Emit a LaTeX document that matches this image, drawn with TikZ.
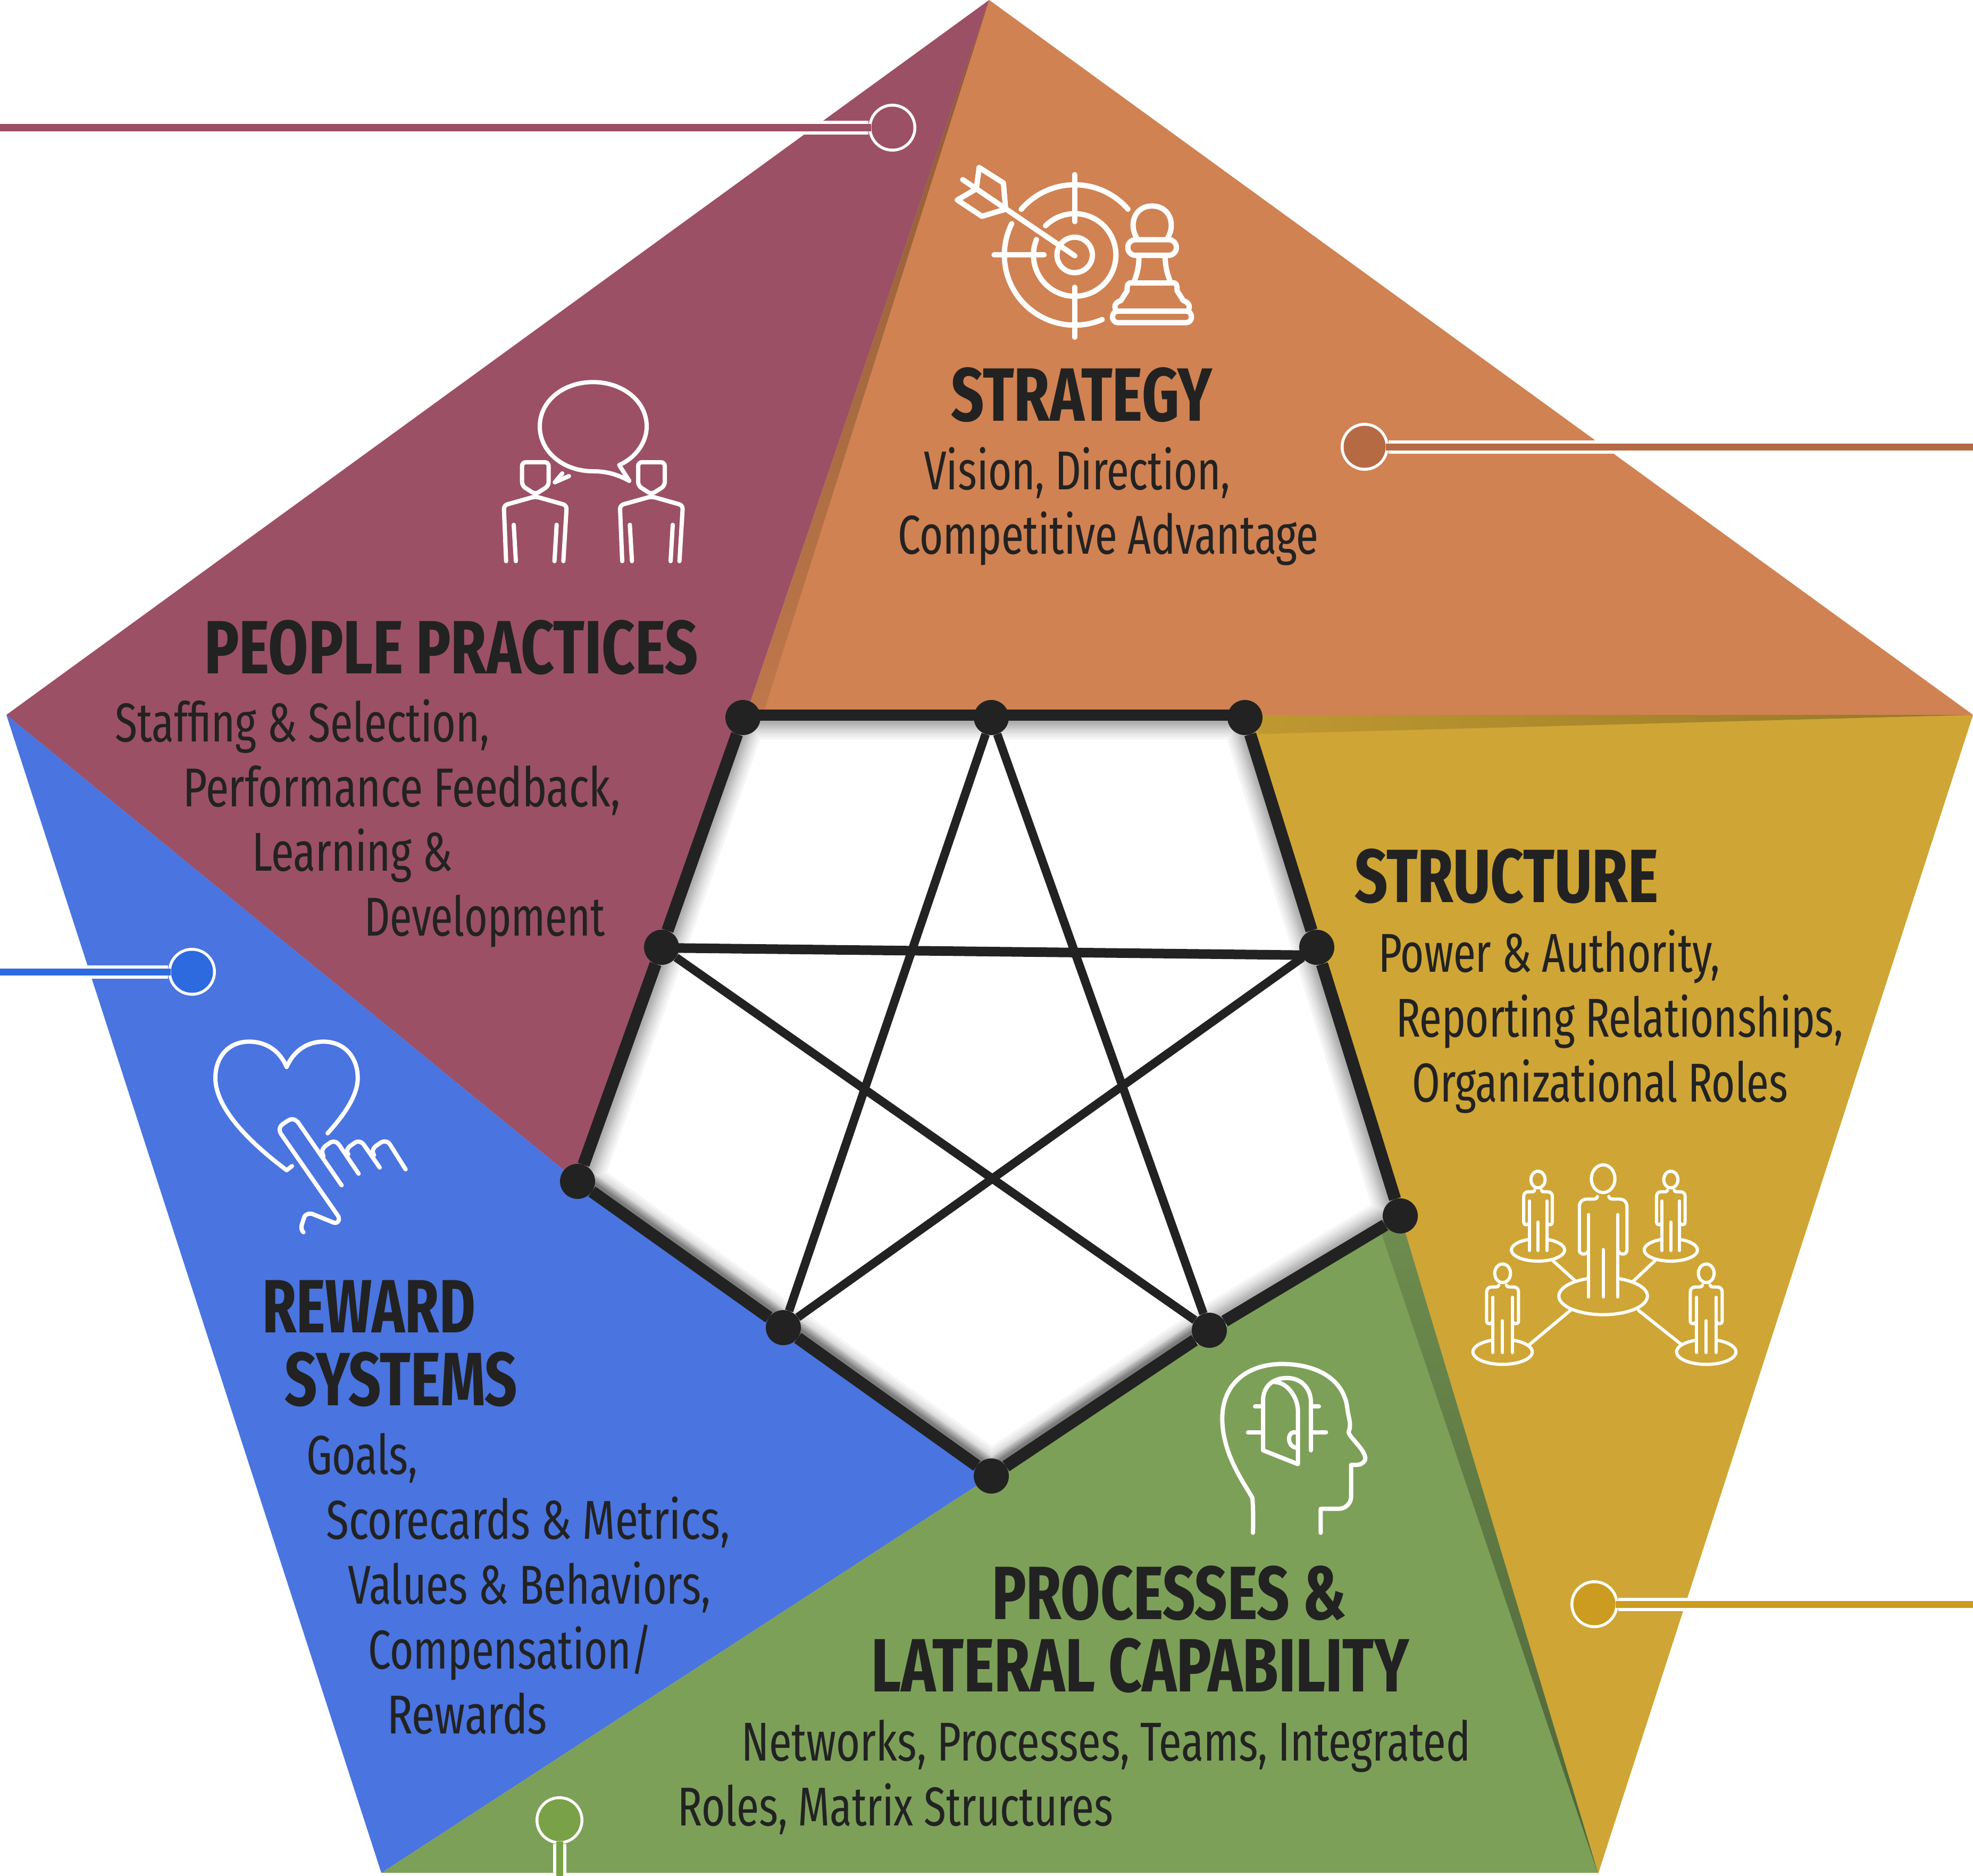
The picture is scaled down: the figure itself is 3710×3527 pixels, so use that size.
\documentclass[tikz,border=0pt]{standalone}
\usepackage{graphicx}
\usepackage{fontspec}
\setmainfont{Fira Sans Condensed}
\usetikzlibrary{shapes.geometric}
\definecolor{corange}{HTML}{D08252}
\definecolor{cmaroon}{HTML}{9B5066}
\definecolor{cgold}{HTML}{CFA535}
\definecolor{cgreen}{HTML}{7DA059}
\definecolor{cblue}{HTML}{4A74DF}
\definecolor{dorange}{HTML}{B56A44}
\definecolor{dgold}{HTML}{CC9C20}
\definecolor{dgreen}{HTML}{78A148}
\definecolor{dblue}{HTML}{2D69DF}
\definecolor{sbrown}{HTML}{8B5A33}
\definecolor{ink}{HTML}{222222}
\newsavebox\fitbox
\newcommand\fitw[2]{\sbox\fitbox{#2}\pgfmathsetmacro\fitr{#1/\wd\fitbox}\scalebox{\fitr}[1]{\usebox\fitbox}}
\newcommand\bodyline[5]{\pgfmathsetmacro\fitW{#4-#3+8}\pgfmathsetmacro\fitX{#3-4}\node[bodyt] (#1) at (\fitX,#5) {\fitw{\fitW}{#2}};}
\newcommand\headline[5]{\pgfmathsetmacro\fitW{#4-#3+8}\pgfmathsetmacro\fitX{#3-4}\node[headt] (#1) at (\fitX,#5) {\fitw{\fitW}{#2}};}
\newcommand\stickman[3]{%
  \pgfmathsetmacro\sxx{0.37*#3}\pgfmathsetmacro\syy{0.3333*#3}%
  \begin{scope}[shift={(#1,#2)},x=\sxx pt,y=-\syy pt]
    \draw[ic6] (0,-662) ellipse[x radius=60*\sxx pt,y radius=78*\syy pt];
    \draw[ic6] (-29,-562) .. controls (-31,-548) and (-41,-547) .. (-56,-547) -- (-81,-547) .. controls (-106,-547) and (-121,-530) .. (-121,-505) -- (-121,-260) .. controls (-121,-230) and (-84,-230) .. (-76,-255);
    \draw[ic6] (29,-562) .. controls (31,-548) and (41,-547) .. (56,-547) -- (81,-547) .. controls (106,-547) and (121,-530) .. (121,-505) -- (121,-260) .. controls (121,-230) and (84,-230) .. (76,-255);
    \draw[ic6] (-74,-460) -- (-74,5);
    \draw[ic6] (74,-460) -- (74,5);
    \draw[ic6] (0,-262) -- (0,5);
    \draw[ic6] plot[domain=-70:250,samples=70,variable=\t] ({225*cos(\t)},{105*sin(\t)});
  \end{scope}}
\tikzset{
  holedot/.style={circle,fill=ink,draw=none,minimum size=66pt,inner sep=0pt},
  edgeline/.style={draw=ink,line width=23pt},
  topline/.style={draw=ink,line width=21pt},
  starline/.style={draw=ink,line width=16pt},
  ring/.style={circle,fill=white,draw=none,minimum size=90pt,inner sep=0pt},
  disc/.style={circle,draw=none,minimum size=79pt,inner sep=0pt},
  bandline/.style={draw=white,line width=25pt},
  barline/.style={line width=13pt},
  bodyt/.style={anchor=base west,inner sep=0pt,text=ink,font=\fontsize{103}{121}\selectfont},
  headt/.style={anchor=base west,inner sep=0pt,text=ink,font=\fontsize{142}{150}\selectfont\bfseries},
  ic/.style={draw=white,line width=10pt,line cap=round,line join=round},
  ic8/.style={draw=white,line width=8pt,line cap=round,line join=round},
  ic6/.style={draw=white,line width=6pt,line cap=round,line join=round},
}
\begin{document}
\begin{tikzpicture}[x=1pt,y=-1pt]
\useasboundingbox (0,0) rectangle (3710,3527);
\fill[white] (0,0) rectangle (3710,3527);
% panels
\fill[cmaroon] (1860,0) -- (1401,1349) -- (1086,2221) -- (12,1344) -- cycle;
\fill[corange] (1860,0) -- (3710,1344) -- (1401,1349) -- cycle;
\fill[cgold] (3710,1344) -- (3005,3523) -- (2633,2286) -- (2341,1344) -- cycle;
\fill[cgreen] (717,3521) -- (3005,3521) -- (2633,2286) -- (1864,2775) -- cycle;
\fill[cblue] (12,1344) -- (1086,2221) -- (1864,2775) -- (717,3521) -- cycle;
% slivers
\shade[top color=sbrown,bottom color=corange!92!black] (1860,0) -- (1434,1345) -- (1401,1349) -- cycle;
\shade[left color=cgold!92!black,right color=cgold!72!black] (3710,1344) -- (2366,1344) -- (2366,1380) -- cycle;
\shade[top color=cgreen!88!black,bottom color=cgreen!62!black] (3005,3523) -- (2633,2286) -- (2598,2320) -- cycle;
% white centre with inner shadow
\fill[white] (1397,1344) -- (2341,1344) -- (2476,1781) -- (2633,2286) -- (2274,2501) -- (1864,2775) -- (1473,2496) -- (1086,2221) -- (1244,1781) -- cycle;
\begin{scope}
  \clip (1397,1344) -- (2341,1344) -- (2476,1781) -- (2633,2286) -- (2274,2501) -- (1864,2775) -- (1473,2496) -- (1086,2221) -- (1244,1781) -- cycle;
  \foreach \w in {92,82,72,64,56,50,44,38,32} {
    \draw[black,opacity=0.04,line width=\w pt] (1397,1344) -- (2341,1344) -- (2476,1781) -- (2633,2286) -- (2274,2501) -- (1864,2775) -- (1473,2496) -- (1086,2221) -- (1244,1781) -- cycle;
  }
  \foreach \w in {58,50,42,36} {
    \draw[black,opacity=0.08,line width=\w pt] (1086,2221) -- (1473,2496) -- (1864,2775) -- (2274,2501);
  }
\end{scope}
% nodes
\node[holedot] (n1) at (1397,1349) {};
\node[holedot] (n2) at (1864,1349) {};
\node[holedot] (n3) at (2341,1349) {};
\node[holedot] (n4) at (2476,1781) {};
\node[holedot] (n5) at (2633,2286) {};
\node[holedot] (n6) at (2274,2501) {};
\node[holedot] (n7) at (1864,2775) {};
\node[holedot] (n8) at (1473,2496) {};
\node[holedot] (n9) at (1086,2221) {};
\node[holedot] (n10) at (1244,1781) {};
\draw[topline] ([yshift=5pt]n1.center)--([yshift=5pt]n2.center); \draw[topline] ([yshift=5pt]n2.center)--([yshift=5pt]n3.center);
\draw[edgeline] (n3)--(n4); \draw[edgeline] (n4)--(n5);
\draw[edgeline] (n5)--(n6); \draw[edgeline] (n6)--(n7); \draw[edgeline] (n7)--(n8); \draw[edgeline] (n8)--(n9);
\draw[edgeline] (n9)--(n10); \draw[edgeline] (n10)--(n1);
\draw[starline] (n2)--(n8); \draw[starline] (n8)--(n4);
\draw[starline,line width=18pt] ([yshift=-1pt]n10.center)--([yshift=-15pt]n4.center);
\draw[starline] (n10)--(n6); \draw[starline] (n6)--(n2);
% callouts
\coordinate (e1) at (0,240);
\node[ring] (c1) at (1678,240) {};
\draw[bandline] (e1)--(c1);
\node[disc,fill=cmaroon] (d1) at (c1) {};
\draw[barline,draw=cmaroon] (e1)--(d1);
\coordinate (e2) at (3710,840);
\node[ring] (c2) at (2566,840) {};
\draw[bandline] (e2)--(c2);
\node[disc,fill=dorange] (d2) at (c2) {};
\draw[barline,draw=dorange] (e2)--(d2);
\coordinate (e3) at (3710,3016);
\node[ring] (c3) at (2998,3016) {};
\draw[bandline] (e3)--(c3);
\node[disc,fill=dgold] (d3) at (c3) {};
\draw[barline,draw=dgold] (e3)--(d3);
\coordinate (e4) at (0,1827);
\node[ring] (c4) at (361,1827) {};
\draw[bandline] (e4)--(c4);
\node[disc,fill=dblue] (d4) at (c4) {};
\draw[barline,draw=dblue] (e4)--(d4);
\coordinate (e5) at (1052,3527);
\node[ring] (c5) at (1052,3422) {};
\draw[bandline] (e5)--(c5);
\node[disc,fill=dgreen] (d5) at (c5) {};
\draw[barline,draw=dgreen] (e5)--(d5);
% texts
\headline{t1}{STRATEGY}{1792}{2275}{791}
\bodyline{t2}{Vision, Direction,}{1741}{2309}{920}
\bodyline{t3}{Competitive Advantage}{1692}{2475}{1041}
\headline{t4}{PEOPLE PRACTICES}{388}{1308}{1266}
\bodyline{t5}{Staffing \& Selection,}{220}{916}{1394}
\bodyline{t6}{Performance Feedback,}{348}{1162}{1516}
\bodyline{t7}{Learning \&}{478}{847}{1637}
\bodyline{t8}{Development}{689}{1133}{1759}
\headline{t9}{STRUCTURE}{2551}{3114}{1696}
\bodyline{t10}{Power \& Authority,}{2596}{3230}{1827}
\bodyline{t11}{Reporting Relationships,}{2629}{3462}{1949}
\bodyline{t12}{Organizational Roles}{2659}{3358}{2071}
\headline{t13}{REWARD}{497}{890}{2505}
\headline{t14}{SYSTEMS}{539}{968}{2642}
\bodyline{t15}{Goals,}{580}{781}{2771}
\bodyline{t16}{Scorecards \& Metrics,}{617}{1368}{2893}
\bodyline{t17}{Values \& Behaviors,}{658}{1332}{3015}
\bodyline{t18}{Compensation/}{696}{1222}{3137}
\bodyline{t19}{Rewards}{732}{1025}{3259}
\headline{t20}{PROCESSES \&}{1869}{2527}{3044}
\headline{t21}{LATERAL CAPABILITY}{1642}{2645}{3180}
\bodyline{t22}{Networks, Processes, Teams, Integrated}{1398}{2761}{3310}
\bodyline{t23}{Roles, Matrix Structures}{1278}{2089}{3432}
% strategy icon
\begin{scope}[shift={(1750,280)},x=0.35075pt,y=-0.33333pt]
  \draw[ic] (772,598) ellipse[x radius=33.3pt,y radius=33.3pt];
  \draw[ic] plot[domain=225:562,samples=90,variable=\t] ({772+221*cos(\t)},{598+233*sin(\t)});
  \draw[ic] plot[domain=220.5:319.3,samples=40,variable=\t] ({772+377*cos(\t)},{598+396*sin(\t)});
  \draw[ic] plot[domain=67:206.5,samples=50,variable=\t] ({772+377*cos(\t)},{598+396*sin(\t)});
  \draw[ic] (772,145) -- (772,410);
  \draw[ic] (772,780) -- (772,1062);
  \draw[ic] (340,598) -- (608,598);
  \draw[ic] (172,173) -- (773,603);
  \draw[ic] (245,225) -- (260,105) -- (390,192) -- (402,340) -- (275,380) -- (143,288) -- cycle;
  \draw[ic] (1110,510) .. controls (1060,440) and (1085,322) .. (1187,322) .. controls (1290,322) and (1315,440) .. (1265,510);
  \draw[ic,rounded corners=14pt] (1057,512) rectangle (1317,600);
  \draw[ic] (1117,600) .. controls (1117,670) and (1105,710) .. (1088,755);
  \draw[ic] (1257,600) .. controls (1257,670) and (1270,710) .. (1287,755);
  \draw[ic] (1068,755) -- (1306,755);
  \draw[ic] (1068,755) .. controls (1050,760) and (1053,790) .. (1053,800) -- (1020,855) .. controls (1000,862) and (975,880) .. (995,915);
  \draw[ic] (1306,755) .. controls (1324,760) and (1321,790) .. (1321,800) -- (1354,855) .. controls (1374,862) and (1399,880) .. (1379,915);
  \draw[ic] (995,915) -- (1379,915);
  \draw[ic,rounded corners=10pt] (975,915) rectangle (1398,980);
\end{scope}
% people icon
\begin{scope}[shift={(900,680)},x=0.33333pt,y=-0.33333pt]
  \draw[ic8] (850,672) -- (793,583) .. controls (880,545) and (948,460) .. (948,365) .. controls (948,220) and (810,115) .. (645,115) .. controls (480,115) and (345,220) .. (345,365) .. controls (345,510) and (480,618) .. (645,618) .. controls (730,618) and (790,640) .. (850,672);
  \draw[ic8] (430,680) -- (472,630);
  \draw[ic8] (430,680) -- (510,645);
  \foreach \d in {0,655} {
    \draw[ic8,rounded corners=7pt] ({320+\d},748) -- ({245+\d},700) -- ({245+\d},567) -- ({395+\d},567) -- ({395+\d},700) -- cycle;
    \draw[ic8,rounded corners=7pt] ({155+\d},1125) -- ({142+\d},810) -- ({320+\d},760) -- ({497+\d},810) -- ({478+\d},1125);
    \draw[ic8] ({198+\d},920) -- ({210+\d},1125);
    \draw[ic8] ({440+\d},920) -- ({428+\d},1125);
  }
\end{scope}
% reward icon
\begin{scope}[shift={(360,1920)},x=0.33333pt,y=-0.33333pt]
  \draw[ic8] (768,632) .. controls (860,530) and (938,420) .. (938,320) .. controls (938,200) and (860,115) .. (745,115) .. controls (650,115) and (575,170) .. (537,258) .. controls (500,170) and (425,115) .. (325,115) .. controls (210,115) and (135,200) .. (135,320) .. controls (135,500) and (350,700) .. (537,840) -- (567,817);
  \draw[ic8] (632,1190) .. controls (615,1175) and (620,1155) .. (625,1140) -- (638,1100) .. controls (650,1085) and (670,1080) .. (690,1090) -- (800,1135) .. controls (830,1145) and (840,1115) .. (825,1095) -- (505,635) .. controls (490,610) and (500,590) .. (515,580) -- (545,560) .. controls (570,545) and (590,555) .. (605,575) -- (847,925);
  \draw[ic8] (745,760) .. controls (730,735) and (740,715) .. (760,700) -- (785,683) .. controls (810,672) and (825,685) .. (835,700) -- (943,860);
  \draw[ic8] (885,750) .. controls (870,730) and (880,715) .. (900,700) -- (925,683) .. controls (950,672) and (965,685) .. (975,700) -- (1062,825);
  \draw[ic8] (1030,755) .. controls (1015,730) and (1025,715) .. (1045,700) -- (1070,683) .. controls (1095,672) and (1110,680) .. (1120,695) -- (1208,835);
\end{scope}
% structure icon
\begin{scope}[shift={(2720,2150)},x=0.37pt,y=-0.33333pt]
  \stickman{796}{860}{1}
  \stickman{465}{600}{0.6}
  \stickman{1140}{600}{0.6}
  \stickman{285}{1175}{0.67}
  \stickman{1320}{1175}{0.67}
  \draw[ic6] (540,660) -- (650,770);
  \draw[ic6] (1060,660) -- (950,775);
  \draw[ic6] (630,940) -- (420,1135);
  \draw[ic6] (975,940) -- (1190,1130);
\end{scope}
% head icon
\begin{scope}[shift={(2250,2530)},x=0.33333pt,y=-0.33333pt]
  \draw[ic8] (318,1055) .. controls (320,1000) and (320,920) .. (315,860) .. controls (280,790) and (145,620) .. (145,410) .. controls (145,220) and (280,105) .. (480,103) .. controls (680,103) and (830,190) .. (850,350) .. controls (855,400) and (875,440) .. (860,480) .. controls (840,500) and (950,580) .. (952,635) .. controls (950,660) and (925,672) .. (905,672) -- (872,672) -- (872,850) .. controls (872,890) and (840,920) .. (800,920) -- (700,920) -- (700,1055);
  \draw[ic8] (645,590) -- (645,320) .. controls (645,240) and (590,182) .. (510,182) .. controls (430,182) and (375,230) .. (375,310) -- (375,590) -- (572,668) -- (572,370) .. controls (572,290) and (510,205) .. (440,205);
  \draw[ic8] (565,490) .. controls (530,480) and (520,510) .. (522,530) .. controls (525,555) and (540,575) .. (565,575);
  \draw[ic8] (330,343) -- (375,343);
  \draw[ic8] (290,488) -- (375,488);
  \draw[ic8] (645,343) -- (690,343);
  \draw[ic8] (645,488) -- (730,488);
\end{scope}
\end{tikzpicture}
\end{document}
